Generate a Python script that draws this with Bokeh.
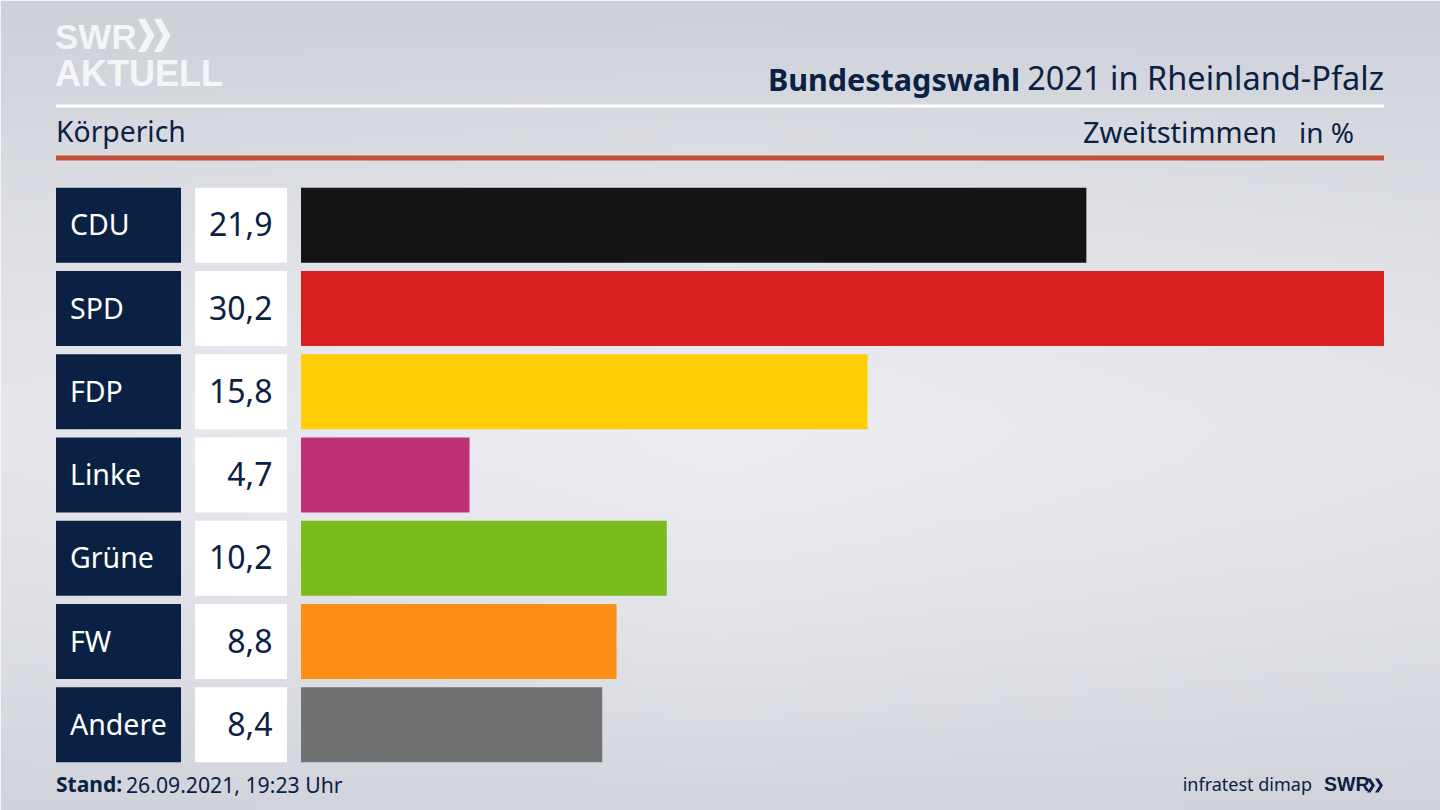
import numpy as np
from bokeh.core.properties import value
from bokeh.embed import file_html
from bokeh.models import ColumnDataSource, Range1d
from bokeh.plotting import figure
from bokeh.resources import INLINE

parties = ["CDU", "SPD", "FDP", "Linke", "Grüne", "FW", "Andere"]
values = [21.9, 30.2, 15.8, 4.7, 10.2, 8.8, 8.4]
bar_colors = ["#141414", "#d9201e", "#ffce09", "#bf3176", "#79bc1b", "#fd8f16", "#717274"]

NAVY = "#0b2143"
FONT = "Noto Sans"

W, H = 1440, 810
PX_PER_UNIT = (1384 - 301) / 30.2
ROW_STEP = 83.25
ROW0 = 224.75
SHIFT = 0.5

p = figure(width=W, height=H, output_backend="svg", toolbar_location=None,
           x_range=Range1d((SHIFT - 301) / PX_PER_UNIT, (W + SHIFT - 301) / PX_PER_UNIT),
           y_range=Range1d((H - ROW0) / ROW_STEP, (0 - ROW0) / ROW_STEP),
           x_axis_location=None, y_axis_location=None, min_border=0)
p.extra_x_ranges["px"] = Range1d(SHIFT, W + SHIFT)
p.extra_y_ranges["px"] = Range1d(H, 0)
p.grid.visible = False
p.outline_line_color = None
p.border_fill_color = None
PX = dict(x_range_name="px", y_range_name="px")

# background gradient
ny, nx = 120, 160
yy, xx = np.mgrid[0:ny, 0:nx]
t = yy / (ny - 1)
s = xx / (nx - 1)
glow = np.clip(1 - (np.abs(t - 0.53) / 0.53) ** 1.5, 0, 1) * (1 - 0.25 * np.abs(s - 0.5) * 2)
r = 205 + (236 - 205) * glow
g = 208 + (237 - 208) * glow
b = 215 + (242 - 215) * glow
img = np.zeros((ny, nx), dtype=np.uint32)
view = img.view(dtype=np.uint8).reshape((ny, nx, 4))
view[..., 0] = r.astype(np.uint8)
view[..., 1] = g.astype(np.uint8)
view[..., 2] = b.astype(np.uint8)
view[..., 3] = 255
p.image_rgba(image=[img], x=SHIFT, y=0, dw=W, dh=H, **PX)

# rules
p.quad(left=[56], right=[1384], top=[104], bottom=[107], fill_color="#ffffff", line_color=None, **PX)
p.quad(left=[56], right=[1384], top=[155], bottom=[160], fill_color="#c64f3c", line_color=None, **PX)

rows = list(range(len(parties)))
labels = [f"{v:.1f}".replace(".", ",") for v in values]
src = ColumnDataSource(dict(row=rows, party=parties, value=values, color=bar_colors, label=labels,
                            y_px=[ROW0 + ROW_STEP * i for i in rows],
                            y_txt=[ROW0 - 1 + ROW_STEP * i for i in rows]))

# bars
p.hbar(y="row", left=0, right="value", height=75 / ROW_STEP, fill_color="color", line_color=None, source=src)

# party and value boxes
p.rect(x=118.5, y="y_px", width=125, height=75, fill_color=NAVY, line_color=None, source=src, **PX)
p.rect(x=241, y="y_px", width=92, height=75, fill_color="#ffffff", line_color=None, source=src, **PX)
p.text(x=70, y="y_txt", text="party", text_color="#ffffff", text_font=value(FONT), text_font_size="28.5px",
       text_baseline="middle", text_align="left", source=src, **PX)
p.text(x=272.5, y="y_txt", text="label", text_color=NAVY, text_font=value(FONT), text_font_size="32px",
       text_baseline="middle", text_align="right", source=src, **PX)


def txt(x, baseline, s, size, color=NAVY, align="left", style="normal", font=FONT):
    # the rendered alphabetic baseline sits about 0.39 em below the anchor
    p.text(x=[x], y=[baseline - 0.39 * size], text=[s], text_color=color, text_font=value(font),
           text_font_size=f"{size}px", text_align=align, text_baseline="alphabetic",
           text_font_style=style, **PX)


# header
txt(1384, 90, "2021 in Rheinland-Pfalz", 32.5, align="right")
txt(1020, 90, "Bundestagswahl", 30.5, align="right", style="bold")
txt(56, 142, "Körperich", 28.3)
txt(1277, 142, "Zweitstimmen", 29, align="right")
txt(1354, 142, "in %", 28, align="right")

# footer
txt(56, 792, "Stand:", 21, style="bold")
txt(126, 792, "26.09.2021, 19:23 Uhr", 21.2)
txt(1312, 791, "infratest dimap", 18, align="right")

# logos
txt(55, 50, "SWR", 35, color="#f4f5f6", style="bold", font="Liberation Sans")
txt(55, 87, "AKTUELL", 36, color="#f4f5f6", style="bold", font="Liberation Sans")
txt(1324, 791, "SWR", 19.5, style="bold", font="Liberation Sans")


def chevrons(x0, ytop, ybot, w, thick, step, color):
    ym = (ytop + ybot) / 2
    for dx in (0, step):
        xs = [x0 + dx, x0 + dx + thick, x0 + dx + thick + w, x0 + dx + thick, x0 + dx, x0 + dx + w]
        p.patch(xs, [ytop, ytop, ym, ybot, ybot, ym], fill_color=color, line_color=None, **PX)


chevrons(138, 18.5, 51.5, 9, 7.5, 16, "#f4f5f6")
chevrons(1367, 778, 792, 4.5, 3.5, 8, NAVY)

open("out.html", "w").write(file_html(p, INLINE))
